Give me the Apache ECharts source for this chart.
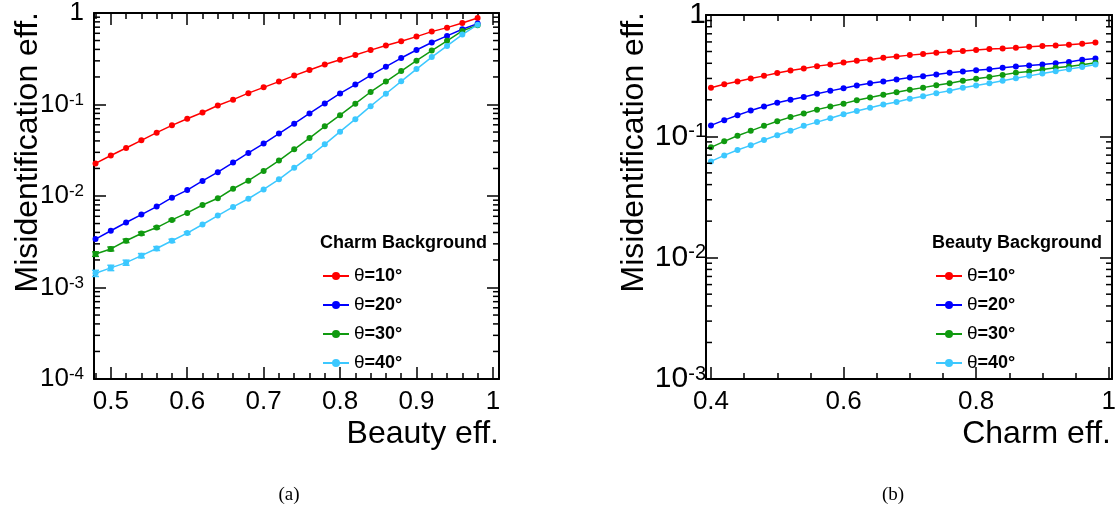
<!DOCTYPE html>
<html><head><meta charset="utf-8">
<script src="https://cdn.jsdelivr.net/npm/echarts@6/dist/echarts.min.js"></script>
<style>html,body{margin:0;padding:0;background:#fff}#c{width:1120px;height:519px}</style>
</head><body><div id="c"></div>
<script>
// ---------- data ----------
const seriesNames = ['θ=10°', 'θ=20°', 'θ=30°', 'θ=40°'];
const seriesColors = ['#ff0000', '#0000ff', '#109a10', '#3cc8ff'];

// (a) Charm background vs beauty efficiency
const xBeauty = [0.48,0.50,0.52,0.54,0.56,0.58,0.60,0.62,0.64,0.66,0.68,0.70,0.72,0.74,0.76,0.78,0.80,0.82,0.84,0.86,0.88,0.90,0.92,0.94,0.96,0.98];
const charmT10 = [0.0227,0.0277,0.0335,0.0406,0.0492,0.0592,0.0699,0.0818,0.0976,0.113,0.133,0.154,0.178,0.207,0.238,0.274,0.308,0.347,0.393,0.442,0.492,0.552,0.626,0.692,0.778,0.883];
const charmT20 = [0.00338,0.00417,0.00513,0.00627,0.00766,0.00959,0.0116,0.0146,0.0182,0.0232,0.0296,0.0374,0.0481,0.0617,0.0798,0.1026,0.132,0.165,0.208,0.259,0.322,0.394,0.476,0.562,0.665,0.766];
const charmT30 = [0.00232,0.00264,0.00324,0.00389,0.00452,0.00548,0.00653,0.00798,0.00944,0.0120,0.0147,0.0188,0.0244,0.0324,0.0430,0.0577,0.0765,0.102,0.137,0.178,0.232,0.301,0.389,0.496,0.637,0.735];
const charmT40 = [0.00143,0.00164,0.00187,0.00223,0.00267,0.00324,0.00393,0.00488,0.00611,0.00759,0.00933,0.0118,0.0152,0.0203,0.0270,0.0367,0.0505,0.0692,0.0959,0.131,0.179,0.244,0.330,0.437,0.581,0.746];
// statistical errors (only visible at low efficiency)
const charmT30Err = [0.00013,0.00013,0.00014,0.00014,0.00013,0.0001];
const charmT40Err = [0.00011,0.00011,0.00012,0.00012,0.00013,0.00013,0.00012];

// (b) Beauty background vs charm efficiency
const xCharm = [0.40,0.42,0.44,0.46,0.48,0.50,0.52,0.54,0.56,0.58,0.60,0.62,0.64,0.66,0.68,0.70,0.72,0.74,0.76,0.78,0.80,0.82,0.84,0.86,0.88,0.90,0.92,0.94,0.96,0.98];
const beautyT10 = [0.251,0.269,0.283,0.300,0.315,0.332,0.349,0.362,0.379,0.391,0.406,0.419,0.430,0.444,0.455,0.467,0.476,0.489,0.498,0.504,0.514,0.524,0.530,0.537,0.547,0.554,0.561,0.569,0.579,0.594];
const beautyT20 = [0.123,0.136,0.149,0.163,0.176,0.189,0.200,0.211,0.224,0.237,0.249,0.262,0.274,0.283,0.294,0.305,0.313,0.323,0.334,0.342,0.351,0.358,0.367,0.376,0.384,0.391,0.401,0.409,0.428,0.438];
const beautyT30 = [0.0811,0.0909,0.101,0.111,0.122,0.133,0.144,0.154,0.166,0.176,0.186,0.198,0.209,0.220,0.231,0.242,0.252,0.264,0.274,0.287,0.298,0.309,0.321,0.334,0.342,0.356,0.367,0.376,0.389,0.404];
const beautyT40 = [0.0621,0.0696,0.0771,0.0843,0.0933,0.102,0.111,0.122,0.131,0.141,0.152,0.162,0.172,0.183,0.192,0.204,0.214,0.227,0.238,0.251,0.262,0.274,0.287,0.301,0.315,0.330,0.344,0.358,0.372,0.391];

// axis settings
const minorMultipliers = [2,3,4,5,6,7,8,9];
const yDecadesA = [1e-4, 1e-3, 1e-2, 1e-1];
const yDecadesB = [1e-3, 1e-2, 1e-1];

// ---------- chart ----------
const FONT = '"Liberation Sans", Arial, Helvetica, sans-serif';
const chart = echarts.init(document.getElementById('c'), null, {renderer: 'canvas'});

function zip(xs, ys) { return xs.map((x, i) => [x, ys[i]]); }
function logLabel(v) {
  const e = Math.round(Math.log10(v));
  return e === 0 ? '1' : '10{s|' + e + '}';
}
function minorVals(decades) {
  const out = [];
  decades.forEach(d => minorMultipliers.forEach(m => out.push(d * m)));
  return out;
}

const blackLine = {color: '#000', width: 2};
const tickLine = {color: '#000', width: 1.5};

function xAxisDef(grid, min, max, split, minorSplit, pos, showLabel) {
  return {
    type: 'value', gridIndex: grid, min: min, max: max, splitNumber: split, position: pos,
    axisLine: {show: true, onZero: false, lineStyle: blackLine},
    axisTick: {show: true, inside: true, length: 12, lineStyle: tickLine},
    minorTick: {show: true, splitNumber: minorSplit, length: 6, lineStyle: tickLine},
    splitLine: {show: false}, minorSplitLine: {show: false},
    axisLabel: {show: showLabel, fontSize: 26, fontFamily: FONT, color: '#000', margin: 10,
      showMinLabel: false, showMaxLabel: false}
  };
}
function yAxisDef(grid, min, pos, showLabel, margin, fs, sfs) {
  return {
    type: 'log', logBase: 10, gridIndex: grid, min: min, max: 1, position: pos,
    axisLine: {show: true, onZero: false, lineStyle: blackLine},
    axisTick: {show: true, inside: true, length: 12, lineStyle: tickLine},
    minorTick: {show: false}, splitLine: {show: false},
    axisLabel: {show: showLabel, fontSize: fs, fontFamily: FONT, color: '#000', margin: margin,
      formatter: logLabel,
      rich: {s: {fontSize: sfs, fontFamily: FONT, color: '#000', verticalAlign: 'top'}}}
  };
}

function lineSeries(name, color, xi, yi, xs, ys) {
  return {
    name: name, type: 'line', xAxisIndex: xi, yAxisIndex: yi, data: zip(xs, ys),
    symbol: 'circle', symbolSize: 6, showSymbol: true,
    lineStyle: {width: 1.5, color: color}, itemStyle: {color: color},
    emphasis: {disabled: true}, z: 3
  };
}
function errorSeries(color, xi, yi, xs, ys, errs) {
  return {
    type: 'custom', xAxisIndex: xi, yAxisIndex: yi, silent: true, z: 4,
    data: errs.map((e, i) => [xs[i], ys[i], e]),
    renderItem: function (params, api) {
      const x = api.value(0), y = api.value(1), e = api.value(2);
      const lo = api.coord([x, y - e]), hi = api.coord([x, y + e]);
      const st = {stroke: color, lineWidth: 1.5};
      return {type: 'group', children: [
        {type: 'line', shape: {x1: lo[0], y1: lo[1], x2: hi[0], y2: hi[1]}, style: st},
        {type: 'line', shape: {x1: lo[0] - 3.5, y1: lo[1], x2: lo[0] + 3.5, y2: lo[1]}, style: st},
        {type: 'line', shape: {x1: hi[0] - 3.5, y1: hi[1], x2: hi[0] + 3.5, y2: hi[1]}, style: st}
      ]};
    }
  };
}
function minorTickSeries(xi, yi, decades, xMid) {
  return {
    type: 'custom', xAxisIndex: xi, yAxisIndex: yi, silent: true, z: 5,
    data: minorVals(decades).map(v => [xMid, v]),
    renderItem: function (params, api) {
      const cs = params.coordSys;
      const y = api.coord([api.value(0), api.value(1)])[1];
      const st = {stroke: '#000', lineWidth: 1.5};
      return {type: 'group', children: [
        {type: 'line', shape: {x1: cs.x, y1: y, x2: cs.x + 6, y2: y}, style: st},
        {type: 'line', shape: {x1: cs.x + cs.width - 6, y1: y, x2: cs.x + cs.width, y2: y}, style: st}
      ]};
    }
  };
}

function legendDef(left, top) {
  return {
    data: seriesNames, left: left, top: top, orient: 'vertical',
    itemWidth: 26, itemHeight: 10, itemGap: 9, selectedMode: false,
    formatter: n => '{t|θ}{b|' + n.slice(1) + '}',
    textStyle: {fontSize: 18, fontFamily: FONT, color: '#000', lineHeight: 20,
      rich: {t: {fontSize: 19, fontFamily: FONT, color: '#000'},
             b: {fontSize: 18, fontWeight: 'bold', fontFamily: FONT, color: '#000'}}}
  };
}

const titleStyle = {fontSize: 32, fontFamily: FONT, fill: '#000'};

const option = {
  animation: false,
  backgroundColor: '#fff',
  grid: [
    {left: 94, top: 12, width: 405, height: 367},
    {left: 706, top: 12, width: 406, height: 367}
  ],
  xAxis: [
    xAxisDef(0, 0.478, 1.008, 5, 5, 'bottom', true),
    xAxisDef(0, 0.478, 1.008, 5, 5, 'top', false),
    xAxisDef(1, 0.3925, 1.005, 3, 4, 'bottom', true),
    xAxisDef(1, 0.3925, 1.005, 3, 4, 'top', false)
  ],
  yAxis: [
    yAxisDef(0, 1e-4, 'left', true, 10, 26, 17),
    yAxisDef(0, 1e-4, 'right', false, 8, 26, 17),
    yAxisDef(1, 1e-3, 'left', true, 0, 30, 20),
    yAxisDef(1, 1e-3, 'right', false, 8, 30, 20)
  ],
  legend: [legendDef(317, 261), legendDef(930, 261)],
  series: [
    lineSeries(seriesNames[0], seriesColors[0], 0, 0, xBeauty, charmT10),
    lineSeries(seriesNames[1], seriesColors[1], 0, 0, xBeauty, charmT20),
    lineSeries(seriesNames[2], seriesColors[2], 0, 0, xBeauty, charmT30),
    lineSeries(seriesNames[3], seriesColors[3], 0, 0, xBeauty, charmT40),
    errorSeries(seriesColors[2], 0, 0, xBeauty, charmT30, charmT30Err),
    errorSeries(seriesColors[3], 0, 0, xBeauty, charmT40, charmT40Err),
    lineSeries(seriesNames[0], seriesColors[0], 2, 2, xCharm, beautyT10),
    lineSeries(seriesNames[1], seriesColors[1], 2, 2, xCharm, beautyT20),
    lineSeries(seriesNames[2], seriesColors[2], 2, 2, xCharm, beautyT30),
    lineSeries(seriesNames[3], seriesColors[3], 2, 2, xCharm, beautyT40),
    minorTickSeries(0, 0, yDecadesA, 0.7),
    minorTickSeries(2, 2, yDecadesB, 0.7)
  ],
  graphic: [
    {type: 'text', x: 28, y: 12, rotation: Math.PI / 2,
     style: Object.assign({text: 'Misidentification eff.', align: 'right', verticalAlign: 'middle'}, titleStyle)},
    {type: 'text', x: 634, y: 12, rotation: Math.PI / 2,
     style: Object.assign({text: 'Misidentification eff.', align: 'right', verticalAlign: 'middle'}, titleStyle)},
    {type: 'text', x: 499, y: 434,
     style: Object.assign({text: 'Beauty eff.', align: 'right', verticalAlign: 'middle'}, titleStyle)},
    {type: 'text', x: 1111, y: 434,
     style: Object.assign({text: 'Charm eff.', align: 'right', verticalAlign: 'middle'}, titleStyle)},
    {type: 'text', x: 320, y: 243,
     style: {text: 'Charm Background', fontSize: 18, fontWeight: 'bold', fontFamily: FONT, fill: '#000', verticalAlign: 'middle'}},
    {type: 'text', x: 932, y: 243,
     style: {text: 'Beauty Background', fontSize: 18, fontWeight: 'bold', fontFamily: FONT, fill: '#000', verticalAlign: 'middle'}},
    {type: 'text', x: 289, y: 495,
     style: {text: '(a)', fontSize: 19, fontFamily: '"Liberation Serif", "Times New Roman", serif', fill: '#000', align: 'center', verticalAlign: 'middle'}},
    {type: 'text', x: 893, y: 495,
     style: {text: '(b)', fontSize: 19, fontFamily: '"Liberation Serif", "Times New Roman", serif', fill: '#000', align: 'center', verticalAlign: 'middle'}}
  ]
};
chart.setOption(option);
</script></body></html>
